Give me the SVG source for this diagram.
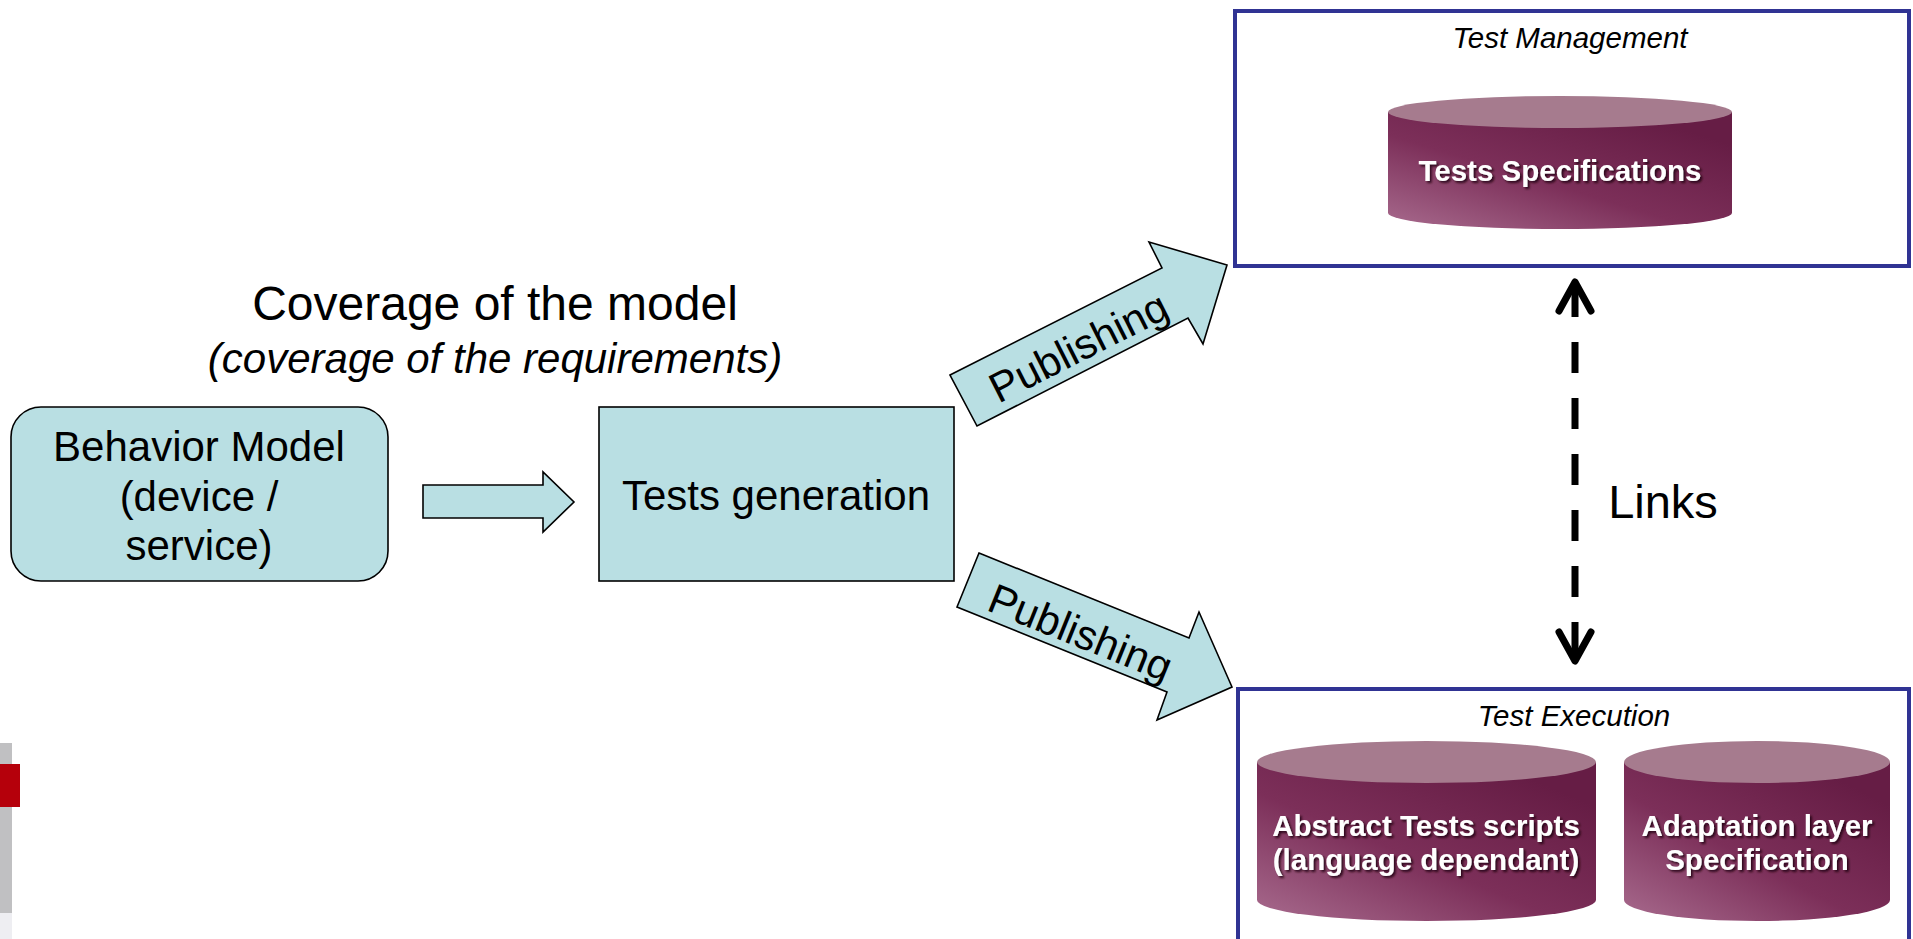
<svg xmlns="http://www.w3.org/2000/svg" width="1913" height="939" viewBox="0 0 1913 939">
  <defs>
    <linearGradient id="cylBody" x1="0" y1="1" x2="0.8" y2="0.1">
      <stop offset="0" stop-color="#a86b8e"/>
      <stop offset="0.5" stop-color="#7c2f59"/>
      <stop offset="1" stop-color="#661d45"/>
    </linearGradient>
    <filter id="textShadow" x="-10%" y="-30%" width="120%" height="160%">
      <feDropShadow dx="2" dy="2" stdDeviation="0.8" flood-color="#1a0010" flood-opacity="0.85"/>
    </filter>
    <marker id="openHead" viewBox="-36 -22 42 44" refX="0" refY="0" markerWidth="42" markerHeight="44" markerUnits="userSpaceOnUse" orient="auto-start-reverse" overflow="visible">
      <path d="M-29,-16 L0,0 L-29,16" fill="none" stroke="#000" stroke-width="7" stroke-linecap="round" stroke-linejoin="round"/>
    </marker>
  </defs>
  <style>
    .shape { fill: #b9dfe3; stroke: #000; stroke-width: 1.6; }
    .label { font-family: "Liberation Sans", Arial, sans-serif; fill: #000; text-anchor: middle; }
    .panel { fill: #fff; stroke: #303393; stroke-width: 4; }
    .panelTitle { font-family: "Liberation Sans", Arial, sans-serif; font-style: italic; font-size: 29.5px; fill: #000; text-anchor: middle; }
    .cylTop { fill: #a67b8e; }
    .cylBody { fill: url(#cylBody); }
    .cylText { font-family: "Liberation Sans", Arial, sans-serif; font-weight: bold; font-size: 29.5px; fill: #fff; text-anchor: middle; filter: url(#textShadow); }
  </style>

  <!-- slide edge decoration -->
  <g id="edge-bar">
    <rect x="0" y="743" width="12" height="170" fill="#c0c0c2"/>
    <rect x="0" y="913" width="12" height="26" fill="#eeeef2"/>
    <rect x="0" y="764" width="20" height="43" fill="#b5000b"/>
  </g>

  <!-- heading -->
  <g id="coverage-heading">
    <text class="label" x="495" y="320" font-size="48">Coverage of the model</text>
    <text class="label" x="495" y="373" font-size="42" font-style="italic">(coverage of the requirements)</text>
  </g>

  <g id="behavior-model">
    <rect class="shape" x="11" y="407" width="377" height="174" rx="30" ry="30"/>
    <text class="label" font-size="42" x="199" y="461">Behavior Model</text>
    <text class="label" font-size="42" x="199" y="511">(device /</text>
    <text class="label" font-size="42" x="199" y="560">service)</text>
  </g>

  <g id="tests-generation">
    <rect class="shape" x="599" y="407" width="355" height="174"/>
    <text class="label" font-size="42" x="776" y="510">Tests generation</text>
  </g>

  <g id="test-management">
    <rect class="panel" x="1235" y="11" width="674" height="255"/>
    <text class="panelTitle" x="1570" y="48">Test Management</text>
    <g id="tests-specifications">
      <path class="cylBody" d="M1388,112 V213 A172,16 0 0 0 1732,213 V112 Z"/>
      <ellipse class="cylTop" cx="1560" cy="112" rx="172" ry="16"/>
      <text class="cylText" x="1560" y="181">Tests Specifications</text>
    </g>
  </g>

  <g id="test-execution">
    <rect class="panel" x="1238" y="689" width="671" height="280"/>
    <text class="panelTitle" x="1574" y="726">Test Execution</text>
    <g id="abstract-tests">
      <path class="cylBody" d="M1257,762 V900 A169.5,21 0 0 0 1596,900 V762 Z"/>
      <ellipse class="cylTop" cx="1426.5" cy="762" rx="169.5" ry="21"/>
      <text class="cylText" x="1426" y="836">Abstract Tests scripts</text>
      <text class="cylText" x="1426" y="870">(language dependant)</text>
    </g>
    <g id="adaptation-layer">
      <path class="cylBody" d="M1624,762 V900 A133,21 0 0 0 1890,900 V762 Z"/>
      <ellipse class="cylTop" cx="1757" cy="762" rx="133" ry="21"/>
      <text class="cylText" x="1757" y="836">Adaptation layer</text>
      <text class="cylText" x="1757" y="870">Specification</text>
    </g>
  </g>

  <g id="connectors">
    <polygon class="shape" points="423,485 543,485 543,472 574,502 543,532 543,518 423,518"/>
    <g id="publish-management">
      <polygon class="shape" points="950,375 1162,268 1149,242 1227,265 1203,344 1188,318 977,426"/>
      <text class="label" font-size="42" transform="translate(1085,360) rotate(-26.8)" x="0" y="0">Publishing</text>
    </g>
    <g id="publish-execution">
      <polygon class="shape" points="979,553 1189,638 1199,612 1232,687 1157,720 1167,692 957,607"/>
      <text class="label" font-size="42" transform="translate(1075,646) rotate(22)" x="0" y="0">Publishing</text>
    </g>
    <g id="links">
      <line x1="1575" y1="282" x2="1575" y2="661" stroke="#000" stroke-width="7" stroke-dasharray="35 25 31 25 31 25 31 25 31 25 31 25 40" marker-start="url(#openHead)" marker-end="url(#openHead)"/>
      <text class="label" font-size="47" x="1663" y="518">Links</text>
    </g>
  </g>
</svg>
